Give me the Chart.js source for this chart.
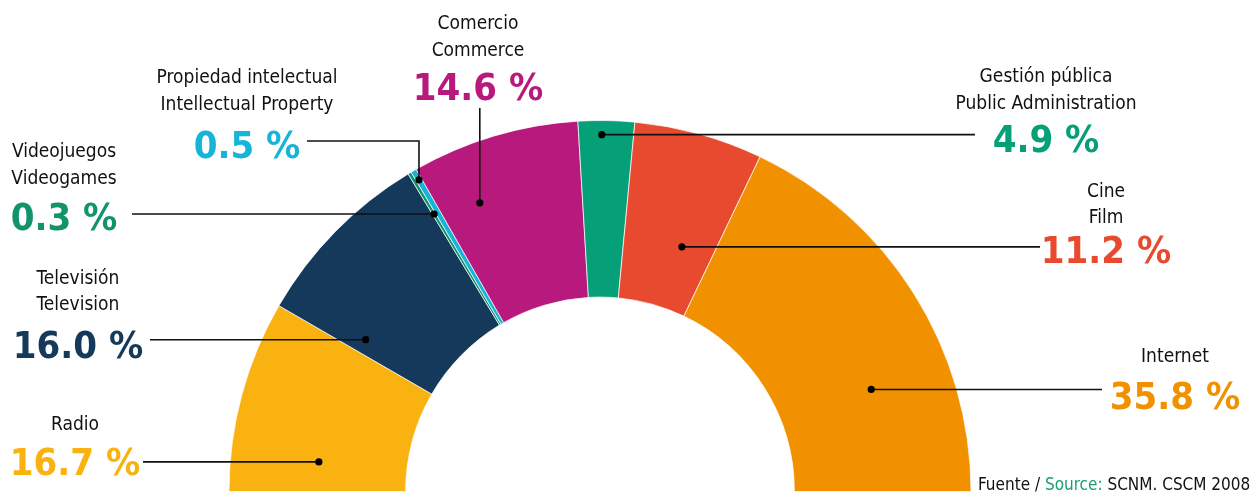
<!DOCTYPE html>
<html>
<head>
<meta charset="utf-8">
<script src="https://cdn.jsdelivr.net/npm/chart.js@4.4.1/dist/chart.umd.min.js"></script>
<style>
  html, body { margin: 0; padding: 0; background: #ffffff; }
  #wrap { position: relative; width: 1250px; height: 492px; overflow: hidden; }
  canvas { display: block; }
</style>
</head>
<body>
<div id="wrap"><canvas id="c" width="1250" height="492"></canvas></div>
<script>
// ---- data ----
const namesEs = ['Radio', 'Televisión', 'Videojuegos', 'Propiedad intelectual', 'Comercio', 'Gestión pública', 'Cine', 'Internet'];
const namesEn = [null, 'Television', 'Videogames', 'Intellectual Property', 'Commerce', 'Public Administration', 'Film', null];
const shares = [16.7, 16.0, 0.3, 0.5, 14.6, 4.9, 11.2, 35.8];
const sliceColors = ['#f9b20f', '#14395b', '#11946b', '#17b4d9', '#b8197c', '#05a077', '#e84a30', '#f29100'];
const sourceParts = ['Fuente / ', 'Source:', ' SCNM. CSCM 2008-2021'];

// ---- layout (label placement, not data) ----
// frac: position along slice angle; rf: position between inner and outer radius
const anchors = [
  { frac: 0.20, rf: 0.50 },
  { frac: 0.10, rf: 0.48 },
  { frac: 0.50, rf: 0.73 },
  { frac: 0.50, rf: 0.94 },
  { frac: 0.27, rf: 0.67 },
  { frac: 0.42, rf: 0.92 },
  { frac: 0.65, rf: 0.36 },
  { frac: 0.68, rf: 0.54 }
];
const labelLayout = [
  { cx: 75,   names: [430],      value: 475, line: 'h', lineX: 143 },
  { cx: 78,   names: [284, 310], value: 358, line: 'h', lineX: 150 },
  { cx: 64,   names: [157, 184], value: 230, line: 'h', lineX: 132 },
  { cx: 247,  names: [83, 110],  value: 158, line: 'elbow', lineX: 307, elbowY: 141 },
  { cx: 478,  names: [29, 56],   value: 100, line: 'v', lineY: 108 },
  { cx: 1046, names: [82, 109],  value: 152, line: 'h', lineX: 975 },
  { cx: 1106, names: [197, 223], value: 263, line: 'h', lineX: 1040 },
  { cx: 1175, names: [362],      value: 409, line: 'h', lineX: 1102 }
];

const FONT = '"DejaVu Sans Condensed", "DejaVu Sans", sans-serif';

const labelPlugin = {
  id: 'leaderLabels',
  afterDatasetsDraw(chart) {
    const ctx = chart.ctx;
    const meta = chart.getDatasetMeta(0);
    ctx.save();
    meta.data.forEach((arc, i) => {
      const p = arc.getProps(['x', 'y', 'startAngle', 'endAngle', 'innerRadius', 'outerRadius'], true);
      const a = anchors[i];
      const ang = p.startAngle + a.frac * (p.endAngle - p.startAngle);
      const r = p.innerRadius + a.rf * (p.outerRadius - p.innerRadius);
      const dx = p.x + Math.cos(ang) * r;
      const dy = p.y + Math.sin(ang) * r;
      const L = labelLayout[i];
      ctx.strokeStyle = '#111111';
      ctx.lineWidth = 1.6;
      ctx.beginPath();
      ctx.moveTo(dx, dy);
      if (L.line === 'h') {
        ctx.lineTo(L.lineX, dy);
      } else if (L.line === 'elbow') {
        ctx.lineTo(dx, L.elbowY);
        ctx.lineTo(L.lineX, L.elbowY);
      } else {
        ctx.lineTo(dx, L.lineY);
      }
      ctx.stroke();
      ctx.fillStyle = '#000';
      ctx.beginPath();
      ctx.arc(dx, dy, 3.6, 0, Math.PI * 2);
      ctx.fill();

      ctx.textAlign = 'center';
      ctx.textBaseline = 'alphabetic';
      ctx.fillStyle = '#111111';
      ctx.font = '19px ' + FONT;
      const lines = [namesEs[i]];
      if (namesEn[i]) lines.push(namesEn[i]);
      lines.forEach((t, k) => ctx.fillText(t, L.cx, L.names[k]));
      ctx.font = 'bold 38px ' + FONT;
      ctx.fillStyle = sliceColors[i];
      ctx.fillText(shares[i].toFixed(1) + ' %', L.cx, L.value);
    });
    // source
    ctx.textAlign = 'left';
    ctx.font = '17px ' + FONT;
    let x = 978;
    const srcColors = ['#111111', '#1a9e77', '#111111'];
    sourceParts.forEach((t, k) => {
      ctx.fillStyle = srcColors[k];
      ctx.fillText(t, x, 490);
      x += ctx.measureText(t).width;
    });
    ctx.restore();
  }
};

new Chart(document.getElementById('c'), {
  type: 'doughnut',
  data: {
    labels: namesEs,
    datasets: [{
      data: shares,
      backgroundColor: sliceColors,
      borderColor: 'rgba(255,255,255,0.7)',
      borderWidth: 1,
      hoverOffset: 0,
      offset: 0
    }]
  },
  options: {
    responsive: false,
    animation: false,
    rotation: -90,
    circumference: 180,
    cutout: '52.4%',
    layout: { padding: { left: 228, right: 278, top: 120, bottom: 0 } },
    plugins: { legend: { display: false }, tooltip: { enabled: false } },
    events: []
  },
  plugins: [labelPlugin]
});
</script>
</body>
</html>
